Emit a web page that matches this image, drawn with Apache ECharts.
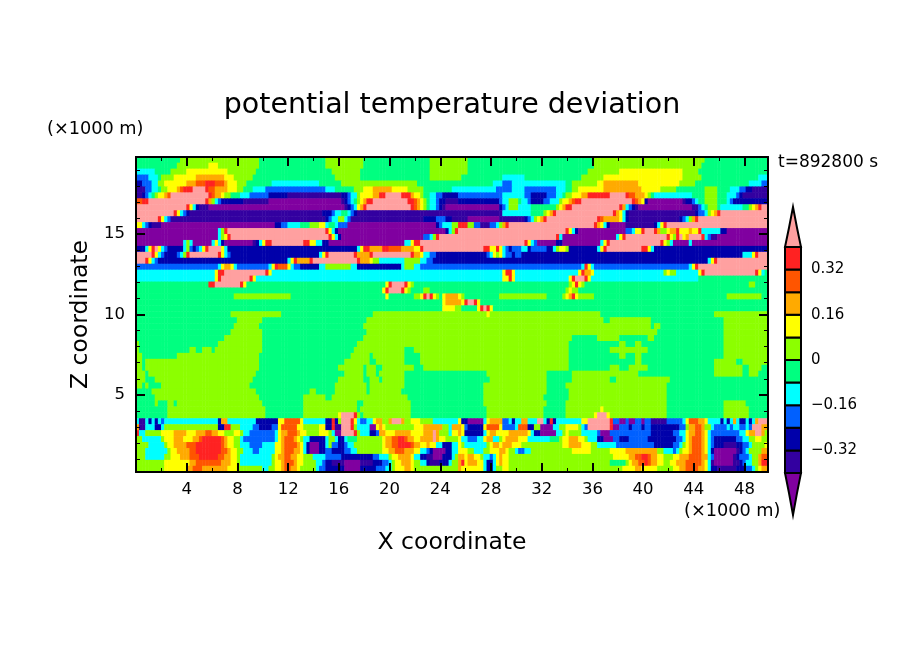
<!DOCTYPE html>
<html><head><meta charset="utf-8">
<style>html,body{margin:0;padding:0;background:#fff}#c{width:904px;height:654px}</style>
<script src="https://cdn.jsdelivr.net/npm/echarts@6/dist/echarts.min.js"></script>
</head><body><div id="c"></div>
<script>
const FONT='"DejaVu Sans"';
const levelLetters='abcdefghijkl'.split('');
const levelValues=[-0.44,-0.36,-0.28,-0.2,-0.12,-0.04,0.04,0.12,0.2,0.28,0.36,0.44];
const levelColors=['#8000a0','#3300a0','#0000aa','#0060ff','#00ffff','#00ff80','#8cff00','#ffff00','#ffaa00','#ff5500','#ff2222','#ffa0a0'];
const levelBounds=[-0.4,-0.32,-0.24,-0.16,-0.08,0,0.08,0.16,0.24,0.32,0.4];
const xTickLabels=[4,8,12,16,20,24,28,32,36,40,44,48];
const zTickLabels=[5,10,15];
const zMinorTicks=[1,2,3,4,6,7,8,9,11,12,13,14,16,17,18,19];
const barLabels=[0.32,0.16,0,-0.16,-0.32];
const COLS=200;
// each row, top to bottom: class letter followed by the column where that class ends
const rowBands=[
"f14g39f60g72f93g105f145g180f200",
"f13g23h26g39f60g72f93g105f145g179f200",
"e6f11g16h29g38f62g71f93g105f143g153h173g178f200",
"d4e7f8g12h19i28h31g37f63g71f93g103f116e123f141g148h173g179f197e200",
"c2d5e7g9h16i19j22k25j28i29h32g35f43e58f65g89f113e116d119e136f138g146h148i159h172g177f194e198d200",
"b3d5e7f8g10h13i14j15k18l22k23j25i29h32g34f37e41d60e63f69g72h75i81h86g91f100e114d119e123d133e136f138g140h148i160h166g171f180g184f188e191d193c195b200",
"b2c3d4e5f6g7h9i10j11l23k24j25i27h28g30f33e36d42c48b65c67d68e70g71h75i77k79l84k87i88h90g91f93e95d97c102d116e123d125c130d133e135f136g138h141i143k150l155k156j158i161h162g163f164e176f180g184f187e190d191c192b200",
"j2k4l22k23i24g25e26d27c34b42a65b66c67d68e69f70g71h72i73k75l86k88j89i90h91g92f93e95d96c98b102c115d116e118g121f122e124d125c129d131e134g135h137i138j139k141l157k158j159i160h161c162a173b174c176d177e178f180g184f187e188d189c200",
"l16k17h18e19c20b23a66b67c68d69e70h71i72k73l87k88j89i90h91g92f93e95d96c97b98a115c116d117e118g121e125f133g134h135i136k138l153k154i155e156d157c158b159a176b178d179e180f181g184f185e192f194g195h196i197k198l200",
"l12k13h14e15d16c17b59c62d63e65f67e68d69c70b116e125f129g130h131i132k133l151k152i153h154e155c156b177c178d180e181g182h183i184k185l200",
"l7k8h9e10d11b60c61d62e64g66e67d68b91c95d98c100b105a115b123c124d125e126g127h128i129k130l146k147j148i153h154e155c156b172c173d174e175g176i177k178l200",
"h2e3d4c5b8a44c46d48e52f55g58h60e61f63e64d67a95c96d97e100g102k105g107d109b112d114e115g116i117k118l145k146i147h148e149c150a155b164c165e166h167k168l200",
"a26e27g28k29l60k61h62e63c64a98c99e100g101k102l136k137h138e139c140a155d157e158h160k161l164k165i166g168h169i171k172h175i176h178k179e185c187a200",
"a26e27g28h29k30l61k62h63e64c65a91d93e94g95k96l133k134e135a152e153h154k155l168k169h170g171k172l173h174i175l179k180e181d182b184a200",
"a15e16g17e18a24e25h26e27c28a37b38c39e40h41k43l53k55h57e59c61a85e87h88k90l123k124h125e126d127a133c135a147e148h149k150l166k167h168g169e170a175e176a200",
"c3e4h5k6l7h8e9d10c15e16g17d18c19d20e21h22k23l27h28e29c70e71h72k74i78k80j84i88h90k91l110k112h114k115h116e117d118c119d122e124c125d130c132e133g134h136g137c146e147h148k149l160k162h163e164c200",
"l5k6h7e8d9c13d14e15g16k17l26k27h28e29d30c58e59h60k61l69k70i74k75l87k88i90h91e93d95c111d112e113h114g115h116e117d119c120d122c192e195h196k197l200",
"l3k4h5e6d7c48e49h50k51i55k56l70k71i74h75g77e85g90e92d94c181e182h183k184l200",
"d26e27h28i30h31e32d42e43h44k45j48h49e50d52c58e60g68e70c84e85g88e90d141e142k143h144e145d175e176h177k178l200",
"e25h26k28l41k42h43e116h117k119h120e140h141k142i144h145e167g168h169g171e178h179k180l196k197h198e199f200",
"e25h26k27l36k37h38e116h118k119h120e137h138k139l142k143h144e178f200",
"f23k25l33k34h35f79h80k81l85k86h87g88f137g138h139k140h141g142f194g196f200",
"f78h79k80l84k85h86g87f91g93f136g137h138g140f200",
"f31g49f79h80f88g90h91k92l93k94h95g96f97h98i102h103g104f115g130f135g136h137i138k139h140g145f187g198f200",
"f97h98i103h104k105l107k108h109f200",
"f97h98h101g103f108h109k110l111k112h113f200",
"f30g46f75g111h112g147f183g200",
"f32g40f73g148f150g163f186g200",
"f31g39f72g163f164g166f186g200",
"f30g40f73g165f186g200",
"f28g40f72g138f146g153f162g164f186g200",
"g1f26g40f70g137f153g155f158g160f186g200",
"g1f17g19f21g24f25g40f69g85f88g137f150g162f186g200",
"g2f13g14f14g39f68g74f75g85f90g137f153g155f158g160f186g200",
"g2f3g39f66g74f76g85f90g137f158g160f183g190f192g200",
"g2f3g39f64g72f73g76f78g88f91g137f150g153f156g162f183g192f194g198f200",
"g3f4g38f66g72f73g76f77g85f111g130f138g159f183g192f194g197f200",
"g3f6g37f64g72f74g77f78g85f112g130f138g150f152g169f200",
"g2f3g4f8g36f63g73f74g85f110g130f136g168f200",
"f5g38f55g57f63g73f74g84f110g130f137g168f200",
"f6g39f53g60f62g86f110g129f137g168f200",
"f6g7f10g12f13g40f53g70f72g87f110g130f136g168f186g193f200",
"f10g41f53g70f71g87f111g129f136g147h148g168f186g194f200",
"f10g41f53g64h65l69k70g71f72g87f111g129f136g145h146l149h150g168f186g194f200",
"e1b3e4c5e6c7e8d9e26c27i29e31e38c45h47j52h53e60c62k63c64g65l68k69h70e71d73e75h76i78g80i81l84i85g87h90g94e102h103c105a110e111h112i116d118e119c120e122i124e127l129e130c131k132c133e141h143l150k151d153a155d156a158d160a161d163b168d173e174h175j178i180h181e185c186e187c188e189i190e191c193e194c195e196i197l200",
"i1b3e6c8e9g26c28k30g33e37d39c43d45h46j51h53g58h60c62k63b65l68k69g70e74a76h77i78h79g88h91i97g99e100i103h104d105c110h111j115h116d120e121j124c126g128a132e134g136h140g141e142d143l150k151a153d156c157d160c161d163c172d174g175i177j179i180g182e183d187e188d189e191d193e194d195l198i200",
"k1e3g8h12i16h19i22j24i26h28g31h33g34e36d44e45h46i48j51i52h54g58h61g62e63a65l69k70g71e74c76d77i79h82i87h91i94l95i96g99e100h102i103h104c110e111h112i114h118i124h125e126c128a133e135g136h137g141e146d147a150d163c170d172e174h175i177j179i180h181e182d191e193h194i196l198i199g200",
"g2e8g9h12i15h18i20j21k27j28i29h31g33e34d44e45h46i47j50i51h52g53e55c60e61g63e64c66e67f70g78h79i81j83k85j86i88h90i94l95i96h98g102h103e105d108e110h111i113e115g116h117i121h124e131f134g135h137i140h142g143e146c148a151d153c156d162c171d173e174h175i176j179i180h181e182d183c190d192e194g196h198g200",
"g4e9g10h12i16j19k27j28i29h31g33e36d40e44h46i47j51i52h53e54c55a58c60e61g62d64c66d67e69g78h79i81j83k87j88i90h92i93h95e97c100e102h103g104e111g112h113i115h116i119h122g135h137i141h144g146e152d164c170d172e173g174h175i176j179i180h181e182d183c186b190c192d194e195g199h200",
"g3e10g11h13i17j19k27j29i30h32g34e37d39e44h46i47j50i52h53e54c55a58c60d62c66d68e70g78h80i82j85i88h90e92d93c94a98c100e102h105g107e110g112h115i117h118g120e121d123e125g138h144g150h155i165g167e170d171e172g173h175i176j179i180h181e182c183a190b191c192d193e194g198i200",
"g3e9g11h14i17j20k26j28i30h32g33e43g44h45i47j49i51h53g56e60d65c75d77e80g81h83i87h88e90c92b94a97c100e101g102i104h105i107h109g110e112d113e114h115i116h118g151h156i158j160k162j163i165h167g170h172i175j179i181e182d183a189b190c191d194e195g197i198j200",
"g9h17i19j27i30h32g33e43g44h46i47j50i51h53g57e59d60c62b66a71b75c78d80e81g82h84i87h88g90e92c93b96c99e100g102i103k104h105i108h110e111c113e114h115i116h118g150f155g156h157i159j161k162j163i165h167g169h171i174j179i180h181e182b183a189b191c192d193e195g197i198k200",
"g9h16i18j21i29h32g40e42g44h46i47j49i51h52g57e58d60c66a71c76d79e81g82h85i87h88g102i103h110e111c113e114g116h118g119g154h158i160h165g170h172i174j178i180h181e182c184b190c193d195e196g197h198i200"
];
const colCats=Array.from({length:COLS},(_,i)=>i);
const rowCats=rowBands.map((_,i)=>i);
const cells=[];
rowBands.forEach((s,r)=>{
  let pos=0,last='f';
  for(const m of s.matchAll(/([a-l])(\d+)/g)){
    last=m[1];const end=+m[2];
    const v=levelValues[levelLetters.indexOf(last)];
    while(pos<end&&pos<COLS){cells.push([pos,r,v]);pos++;}
  }
  while(pos<COLS){cells.push([pos,r,levelValues[levelLetters.indexOf(last)]]);pos++;}
});
const barCells=[];
for(let i=0;i<levelBounds.length-1;i++)barCells.push([levelBounds[i],levelBounds[i+1],i+1]);
const barEnds=[[0.4,0.5416,11],[-0.4,-0.5487,0]];
const pieces=[{lt:-0.4,color:levelColors[0]}];
for(let i=0;i<levelBounds.length-1;i++)pieces.push({gte:levelBounds[i],lt:levelBounds[i+1],color:levelColors[i+1]});
pieces.push({gte:0.4,color:levelColors[11]});
const box={left:136,top:157,width:632,height:315};
const line={onZero:false,lineStyle:{color:'#000',width:2}};
const major={show:true,inside:true,length:9,lineStyle:{color:'#000',width:2}};
const minor={show:true,length:4,lineStyle:{color:'#000',width:1}};
const hidden={show:false};
const xLim={type:'value',min:0,max:49.85,interval:4};
const zLim={type:'value',min:0.2,max:19.8};
const tickFont={fontFamily:FONT,fontSize:16.5,color:'#000'};
const zMajor=Object.assign({},major,{customValues:zTickLabels});
const zMinor={show:true,inside:true,length:4,customValues:zMinorTicks,lineStyle:{color:'#000',width:1}};
const option={
 animation:false,backgroundColor:'#fff',
 title:{text:'potential temperature deviation',left:'center',top:86,textStyle:{fontFamily:FONT,fontSize:28.5,fontWeight:'normal',color:'#000'}},
 grid:[Object.assign({},box),Object.assign({},box),Object.assign({},box),{left:785,top:247,width:16,height:226},Object.assign({},box),Object.assign({},box)],
 xAxis:[
  {type:'category',data:colCats,gridIndex:0,show:false},
  Object.assign({gridIndex:1,position:'bottom',zlevel:1,axisLine:line,axisTick:major,minorTick:Object.assign({splitNumber:2},minor),splitLine:hidden,minorSplitLine:hidden,
    axisLabel:{show:true,margin:9,...tickFont,formatter:v=>xTickLabels.includes(v)?String(v):''},
    name:'X coordinate',nameLocation:'middle',nameGap:59,nameTextStyle:{fontFamily:FONT,fontSize:23.5,color:'#000'}},xLim),
  Object.assign({gridIndex:2,position:'top',zlevel:1,axisLine:line,axisTick:major,minorTick:Object.assign({splitNumber:2},minor),splitLine:hidden,axisLabel:hidden},xLim),
  {type:'value',min:0,max:1,gridIndex:3,show:false},
  Object.assign({gridIndex:4,show:false},xLim),
  Object.assign({gridIndex:5,show:false},xLim)
 ],
 yAxis:[
  {type:'category',data:rowCats,inverse:true,gridIndex:0,show:false},
  Object.assign({gridIndex:1,position:'left',zlevel:1,axisLine:line,axisTick:zMajor,splitLine:hidden,
    axisLabel:{show:true,margin:11,customValues:zTickLabels,...tickFont,formatter:v=>String(v)},
    name:'Z coordinate',nameLocation:'middle',nameGap:41,nameTextStyle:{fontFamily:FONT,fontSize:23.5,color:'#000'}},zLim),
  Object.assign({gridIndex:2,position:'right',zlevel:1,axisLine:line,axisTick:zMajor,splitLine:hidden,axisLabel:hidden},zLim),
  {type:'value',min:-0.4,max:0.4,interval:0.08,gridIndex:3,position:'right',axisLine:hidden,axisTick:hidden,splitLine:hidden,
    axisLabel:{show:true,margin:10,fontFamily:FONT,fontSize:15,color:'#000',formatter:v=>{const n=Math.round(v*100)/100;return barLabels.includes(n)?String(n).replace('-','\u2212'):''}}},
  Object.assign({gridIndex:4,position:'left',zlevel:1,axisLine:line,axisTick:zMinor,splitLine:hidden,axisLabel:hidden},zLim),
  Object.assign({gridIndex:5,position:'right',zlevel:1,axisLine:line,axisTick:zMinor,splitLine:hidden,axisLabel:hidden},zLim)
 ],
 visualMap:{show:false,type:'piecewise',seriesIndex:0,dimension:2,pieces:pieces},
 series:[
  {type:'heatmap',xAxisIndex:0,yAxisIndex:0,data:cells,progressive:0,itemStyle:{borderWidth:0},emphasis:{disabled:true}},
  {type:'custom',xAxisIndex:3,yAxisIndex:3,silent:true,z:6,data:barCells,renderItem:(p,api)=>{
    const a=api.coord([0,api.value(0)]),b=api.coord([1,api.value(1)]);
    return {type:'rect',shape:{x:a[0],y:b[1],width:b[0]-a[0],height:a[1]-b[1]},style:{fill:levelColors[api.value(2)],stroke:'#000',lineWidth:2}};
  }},
  {type:'custom',xAxisIndex:3,yAxisIndex:3,silent:true,z:6,data:barEnds,renderItem:(p,api)=>{
    const lo=api.value(0),hi=api.value(1),at=(x,f)=>api.coord([x,lo+(hi-lo)*f]);
    return {type:'polygon',shape:{points:[at(0,0),at(0.25,0.48),at(0.5,1),at(0.75,0.48),at(1,0)]},style:{fill:levelColors[api.value(2)],stroke:'#000',lineWidth:2}};
  }}
 ],
 graphic:[
  {type:'text',x:47,y:120,style:{text:'(\u00d71000 m)',font:'17.7px '+FONT,fill:'#000'}},
  {type:'text',x:684,y:502,style:{text:'(\u00d71000 m)',font:'17.7px '+FONT,fill:'#000'}},
  {type:'text',x:778,y:154,style:{text:'t=892800 s',font:'17px '+FONT,fill:'#000'}}
 ]
};
const chart=echarts.init(document.getElementById('c'),null,{renderer:'canvas'});
chart.setOption(option);
</script></body></html>
